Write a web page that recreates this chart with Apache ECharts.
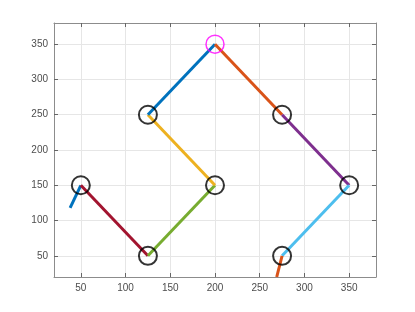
<!DOCTYPE html>
<html><head><meta charset="utf-8">
<script src="https://cdn.jsdelivr.net/npm/echarts@6/dist/echarts.min.js"></script>
<style>html,body{margin:0;padding:0;background:#fff}#c{width:415px;height:312px}</style>
</head><body><div id="c"></div>
<script>
const pathX = [38, 50, 125, 200, 125, 200, 275, 350, 275, 269];
const pathY = [118, 150, 50, 150, 250, 350, 250, 150, 50, 20];
const segColors = ['#0072BD','#A2142F','#77AC30','#EDB120','#0072BD','#D95319','#7E2F8E','#4DBEEE','#D95319'];
const circleX = [50, 125, 200, 125, 275, 350, 275];
const circleY = [150, 50, 150, 250, 250, 150, 50];
const startX = [200];
const startY = [350];
const xTicks = [50, 100, 150, 200, 250, 300, 350];
const yTicks = [50, 100, 150, 200, 250, 300, 350];

const series = [];
for (let i = 0; i < pathX.length - 1; i++) {
  series.push({
    type: 'line', xAxisIndex: 0, yAxisIndex: 0,
    data: [[pathX[i], pathY[i]], [pathX[i+1], pathY[i+1]]],
    symbol: 'none', clip: true,
    lineStyle: { color: segColors[i], width: 3, cap: 'butt' },
    z: 3
  });
}
series.push({
  type: 'scatter', data: circleX.map((x, i) => [x, circleY[i]]),
  symbol: 'circle', symbolSize: 18,
  itemStyle: { color: 'rgba(0,0,0,0)', borderColor: '#000', borderWidth: 2 }, z: 4
});
series.push({
  type: 'scatter', data: startX.map((x, i) => [x, startY[i]]),
  symbol: 'circle', symbolSize: 18,
  itemStyle: { color: 'rgba(0,0,0,0)', borderColor: '#FF00FF', borderWidth: 1.5 }, z: 4
});

const lab = { color: '#4d4d4d', fontSize: 10, fontFamily: 'Liberation Sans, Arial, sans-serif' };
function ax(pos, vals, main) {
  return {
    type: 'value', position: pos, min: 20, max: 380,
    axisLine: { show: true, onZero: false, lineStyle: { color: '#8c8c8c', width: 1 } },
    axisTick: { show: true, inside: true, length: 4, customValues: vals, lineStyle: { color: '#666' } },
    axisLabel: main ? Object.assign({ show: true, customValues: vals, margin: 6 }, lab) : { show: false },
    splitLine: { show: main, lineStyle: { color: '#e6e6e6', width: 1 } }
  };
}
const chart = echarts.init(document.getElementById('c'), null, { renderer: 'canvas' });
chart.setOption({
  animation: false,
  backgroundColor: '#fff',
  grid: { left: 54, right: 39, top: 23, bottom: 35, containLabel: false },
  xAxis: [ax('bottom', xTicks, true), ax('top', xTicks, false)],
  yAxis: [ax('left', yTicks, true), ax('right', yTicks, false)],
  series: series
});
</script></body></html>
